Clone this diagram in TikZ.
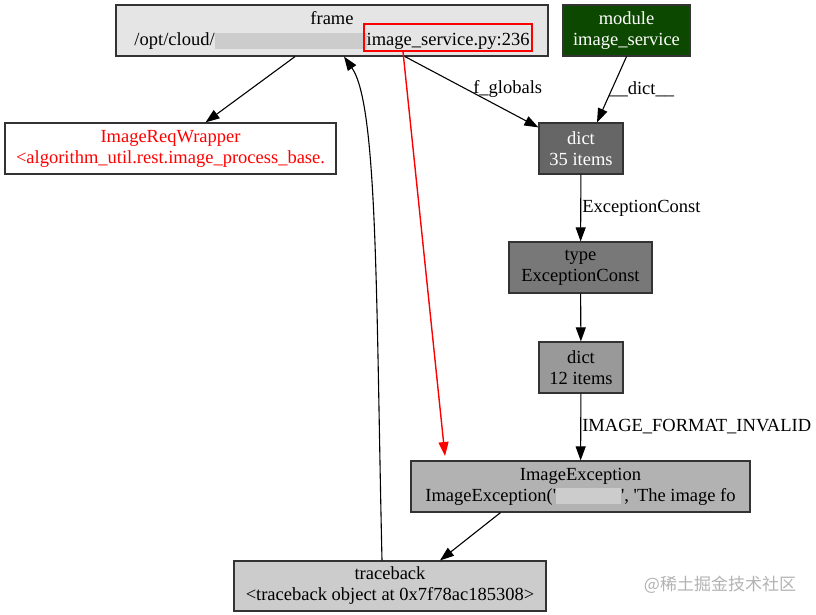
\documentclass[tikz,border=0pt]{standalone}
\usepackage{fontspec}
\setmainfont{Liberation Serif}
\newfontfamily\cjk{Noto Sans CJK SC}
\usepackage{tikz}
\usetikzlibrary{arrows.meta}
\definecolor{modgreen}{RGB}{12,72,0}
\newcommand{\blurbox}[1]{{\color{black!20}\rule[-3pt]{#1pt}{16pt}}}

\begin{document}
\begin{tikzpicture}[x=1pt,y=-1pt,
  box/.style={draw=black!80, line width=1.2pt, inner sep=0pt, align=center,
    font=\fontsize{18.5}{21}\selectfont},
  edge/.style={line width=1.1pt, -{Triangle[length=14pt,width=10pt]}},
  lbl/.style={font=\fontsize{18.5}{21}\selectfont, inner sep=1pt}]
\useasboundingbox (0,0) rectangle (816,614);
\node[box, fill=black!10, minimum width=432, minimum height=51] (frame) at (332,30.5)
  {frame\\/opt/cloud/\blurbox{152}image\_service.py:236};
\node[draw=red, line width=1.5pt, minimum width=168, minimum height=27] (hl) at (448,37.5) {};
\node[box, fill=modgreen, text=white, minimum width=127, minimum height=51] (module) at (626.5,30.5)
  {module\\image\_service};
\node[box, fill=white, text=red, minimum width=331, minimum height=51] (wrapper) at (170.5,148.5)
  {ImageReqWrapper\\<algorithm\_util.rest.image\_process\_base.};
\node[box, fill=black!60, text=white, minimum width=84, minimum height=51] (dicta) at (581,148.5)
  {dict\\35 items};
\node[box, fill=black!53, minimum width=143, minimum height=51] (typeec) at (580.5,267.5)
  {type\\ExceptionConst};
\node[box, fill=black!40, minimum width=84, minimum height=51] (dictb) at (581,367.5)
  {dict\\12 items};
\node[box, fill=black!30, minimum width=339, minimum height=51] (imgexc) at (580.5,486.5)
  {ImageException\\ImageException(\textquotesingle\blurbox{65}\textquotesingle, \textquotesingle The image fo};
\node[box, fill=black!20, minimum width=312, minimum height=50] (tb) at (390,586)
  {traceback\\<traceback object at 0x7f78ac185308>};
\coordinate (redend) at (445,456);

\draw[edge] ([xshift=-37]frame.south) -- ([xshift=35]wrapper.north);
\draw[edge] ([xshift=73]frame.south) -- node[lbl, midway, anchor=west, yshift=3] {f\_globals} ([yshift=-5]dicta.north west);
\draw[edge] (module.south) -- node[lbl, midway, anchor=west, xshift=-4] {\_\_dict\_\_} ([xshift=16]dicta.north);
\draw[edge] (dicta) -- node[lbl, midway, anchor=west] {ExceptionConst} (typeec);
\draw[edge] (typeec) -- (dictb);
\draw[edge] (dictb) -- node[lbl, midway, anchor=west] {IMAGE\_FORMAT\_INVALID} (imgexc);
\draw[edge] ([xshift=-80]imgexc.south) -- ([xshift=50]tb.north);
\draw[edge] ([xshift=-8]tb.north) .. controls (376,300) and (378,105) .. ([xshift=12]frame.south);
\draw[edge, draw=red, fill=red, line width=1.4pt] ([xshift=-45]hl.south) -- (redend);

\node[text=black!30, font=\cjk\fontsize{17}{20}\selectfont] (mark) at (720,585) {@稀土掘金技术社区};
\end{tikzpicture}
\end{document}
